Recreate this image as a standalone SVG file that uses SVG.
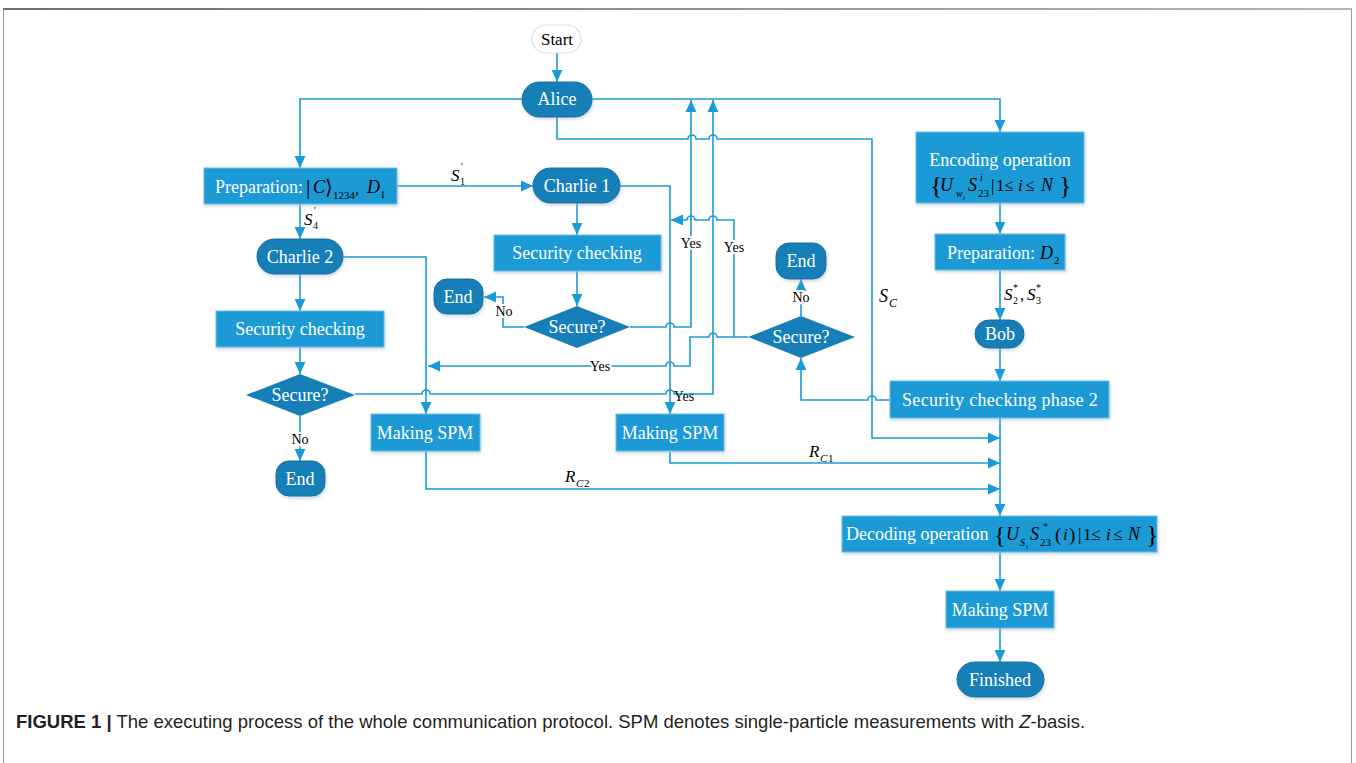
<svg xmlns="http://www.w3.org/2000/svg" width="1356" height="763" viewBox="0 0 1356 763">
<defs>
<style>
.box{fill:#1c9ad6;stroke:#6fbde6;stroke-width:1;filter:url(#sh)}
.pill{fill:#177fb8;stroke:#106ea3;stroke-width:1;filter:url(#sh)}
.dia{fill:#177fb8;stroke:none}
.t{font-family:"Liberation Serif",serif;font-size:18px;fill:#fff;text-anchor:middle}
.ts{font-family:"Liberation Serif",serif;font-size:18px;fill:#fff}
.lbl{font-family:"Liberation Serif",serif;font-size:14px;fill:#000;text-anchor:middle}
.bg{stroke:#fff;stroke-width:4;paint-order:stroke}
.m{font-family:"Liberation Serif",serif;fill:#000}
.i{font-style:italic}
.ln{fill:none;stroke:#1b9ad8;stroke-width:1.6}
.arr{marker-end:url(#ah)}
</style>
<marker id="ah" viewBox="0 0 10 10" refX="10" refY="5" markerWidth="12" markerHeight="12" markerUnits="userSpaceOnUse" orient="auto">
<path d="M0,0.5 L10,5 L0,9.5 z" fill="#1b9ad8"/>
</marker>
<filter id="sh" x="-10%" y="-20%" width="120%" height="150%">
<feDropShadow dx="1" dy="2" stdDeviation="1.5" flood-color="#9fb3c2" flood-opacity="0.5"/>
</filter>
<linearGradient id="tg" x1="0" x2="1" y1="0" y2="0">
<stop offset="0" stop-color="#6e6e6e"/><stop offset="1" stop-color="#b5b5b5"/>
</linearGradient>
</defs>
<rect x="0" y="0" width="1356" height="763" fill="#fff"/>
<rect x="3" y="8" width="1349" height="2" fill="url(#tg)"/>
<path d="M3.5,9 V763 M1351.5,9 V763" stroke="#9a9a9a" stroke-width="1" fill="none"/>

<g id="connectors">
<path class="ln arr" d="M557,53 V82"/>
<path class="ln arr" d="M522,99 H300 V168"/>
<path class="ln arr" d="M592,99 H1000 V132"/>
<path class="ln arr" d="M557,117 V139 H688 a4,4 0 0 1 8,0 H709 a4,4 0 0 1 8,0 H872 V438 H1000"/>
<path class="ln arr" d="M397,186 H533"/>
<path class="ln arr" d="M300,204 V239"/>
<path class="ln arr" d="M577,203 V235"/>
<path class="ln arr" d="M577,271 V306"/>
<path class="ln arr" d="M524,327 H503 V297 H484"/>
<path class="ln arr" d="M630,327 H666 a4,4 0 0 1 8,0 H691 V100"/>
<path class="ln arr" d="M620,186 H670 V414"/>
<path class="ln arr" d="M300,274 V311"/>
<path class="ln arr" d="M300,347 V374"/>
<path class="ln arr" d="M300,416 V461"/>
<path class="ln arr" d="M355,394 H422 a4,4 0 0 1 8,0 H666 a4,4 0 0 1 8,0 H713 V100"/>
<path class="ln arr" d="M343,257 H426 V414"/>
<path class="ln arr" d="M748,337 H734 V220 H717 a4,4 0 0 0 -8,0 H695 a4,4 0 0 0 -8,0 H671"/>
<path class="ln arr" d="M734,337 H717 a4,4 0 0 0 -8,0 H690 V366 H674 a4,4 0 0 0 -8,0 H428"/>
<path class="ln arr" d="M801,316 V279"/>
<path class="ln arr" d="M890,400 H876 a4,4 0 0 0 -8,0 H801 V358"/>
<path class="ln arr" d="M1000,203 V234"/>
<path class="ln arr" d="M1000,270 V320"/>
<path class="ln arr" d="M1000,348 V381"/>
<path class="ln arr" d="M1000,418 V516"/>
<path class="ln arr" d="M670,452 V463 H1000"/>
<path class="ln arr" d="M426,451 V489 H1000"/>
<path class="ln arr" d="M1000,552 V591"/>
<path class="ln arr" d="M1000,628 V662"/>
<text class="lbl bg" x="691" y="248">Yes</text>
<text class="lbl bg" x="734" y="252">Yes</text>
<text class="lbl bg" x="600" y="371">Yes</text>
<text class="lbl" x="684" y="401">Yes</text>
<text class="lbl bg" x="504" y="316">No</text>
<text class="lbl bg" x="801" y="302">No</text>
<text class="lbl bg" x="300" y="444">No</text>
<text class="m" font-size="17"><tspan class="i" x="451" y="181">S</tspan><tspan x="461" y="170" font-size="10">'</tspan><tspan x="460" y="185" font-size="10">1</tspan></text>
<text class="m" font-size="17"><tspan class="i" x="304" y="225">S</tspan><tspan x="314" y="214" font-size="10">'</tspan><tspan x="313" y="229" font-size="10">4</tspan></text>
<text class="m" font-size="17"><tspan class="i" x="1004" y="300">S</tspan><tspan x="1013" y="291" font-size="10">*</tspan><tspan x="1013" y="304" font-size="10">2</tspan><tspan x="1020" y="300">,</tspan><tspan class="i" x="1027" y="300">S</tspan><tspan x="1036" y="291" font-size="10">*</tspan><tspan x="1036" y="304" font-size="10">3</tspan></text>
<text class="m" font-size="18"><tspan class="i" x="879" y="302">S</tspan><tspan class="i" x="889" y="307" font-size="12">C</tspan></text>
<text class="m" font-size="17"><tspan class="i" x="565" y="482">R</tspan><tspan class="i" x="576" y="487" font-size="11">C</tspan><tspan x="584" y="487" font-size="11">2</tspan></text>
<text class="m" font-size="17"><tspan class="i" x="809" y="457">R</tspan><tspan class="i" x="820" y="462" font-size="11">C</tspan><tspan x="828" y="462" font-size="11">1</tspan></text>
</g>

<g id="start">
<rect x="532" y="25" width="49" height="28" rx="14" fill="#fff" stroke="#cfe3f2" stroke-width="1.2"/>
<text class="t" x="557" y="45" style="fill:#000;font-size:17px">Start</text>
</g>
<g id="alice">
<rect class="pill" x="522" y="82" width="70" height="35" rx="17.5"/>
<text class="t" x="557" y="105">Alice</text>
</g>
<g id="prep1">
<rect class="box" x="204" y="168" width="193" height="36"/>
<text class="ts" x="215" y="193">Preparation:</text>
<text class="m" font-size="18"><tspan x="306" y="194" font-size="22">|</tspan><tspan class="i" x="313" y="193">C</tspan><tspan x="325" y="194" font-size="20">⟩</tspan><tspan x="333" y="199" font-size="11">1234</tspan><tspan x="355" y="194" font-size="16">,</tspan><tspan class="i" x="367" y="193">D</tspan><tspan x="380" y="198" font-size="11">1</tspan></text>
</g>
<g id="charlie1">
<rect class="pill" x="533" y="168" width="87" height="35" rx="17.5"/>
<text class="t" x="577" y="192">Charlie 1</text>
</g>
<g id="charlie2">
<rect class="pill" x="257" y="239" width="86" height="35" rx="17.5"/>
<text class="t" x="300" y="263">Charlie 2</text>
</g>
<g id="sc1">
<rect class="box" x="494" y="235" width="167" height="36"/>
<text class="t" x="577" y="259">Security checking</text>
</g>
<g id="sc2">
<rect class="box" x="216" y="311" width="168" height="36"/>
<text class="t" x="300" y="335">Security checking</text>
</g>
<g id="secure1">
<path class="dia" d="M524,327 L577,306 L630,327 L577,348 Z"/>
<text class="t" x="577" y="333">Secure?</text>
</g>
<g id="secure2">
<path class="dia" d="M246,395 L300,374 L355,395 L300,416 Z"/>
<text class="t" x="300" y="401">Secure?</text>
</g>
<g id="secure3">
<path class="dia" d="M748,337 L801,316 L855,337 L801,358 Z"/>
<text class="t" x="801" y="343">Secure?</text>
</g>
<g id="end1">
<rect class="pill" x="434" y="279" width="49" height="35" rx="13"/>
<text class="t" x="458" y="303">End</text>
</g>
<g id="end2">
<rect class="pill" x="276" y="461" width="49" height="35" rx="13"/>
<text class="t" x="300" y="485">End</text>
</g>
<g id="end3">
<rect class="pill" x="776" y="243" width="50" height="36" rx="13"/>
<text class="t" x="801" y="267">End</text>
</g>
<g id="spm1">
<rect class="box" x="371" y="414" width="109" height="37"/>
<text class="t" x="425" y="439">Making SPM</text>
</g>
<g id="spm2">
<rect class="box" x="616" y="414" width="108" height="37"/>
<text class="t" x="670" y="439">Making SPM</text>
</g>
<g id="encoding">
<rect class="box" x="916" y="132" width="168" height="71"/>
<text class="t" x="1000" y="166">Encoding operation</text>
<text class="m" font-size="17"><tspan x="930" y="194" font-size="26">{</tspan><tspan class="i" x="940" y="191" font-size="18">U</tspan><tspan class="i" x="956" y="197" font-size="10">w</tspan><tspan class="i" x="963" y="200" font-size="7">i</tspan><tspan class="i" x="968" y="191" font-size="18">S</tspan><tspan class="i" x="980" y="181" font-size="10">i</tspan><tspan x="978" y="197" font-size="11">23</tspan><tspan x="991" y="191">|</tspan><tspan x="996" y="191">1</tspan><tspan x="1004" y="191">≤</tspan><tspan class="i" x="1018" y="191">i</tspan><tspan x="1025" y="191">≤</tspan><tspan class="i" x="1041" y="191" font-size="18">N</tspan><tspan x="1059" y="194" font-size="26">}</tspan></text>
</g>
<g id="prep2">
<rect class="box" x="935" y="234" width="130" height="36"/>
<text class="ts" x="947" y="259">Preparation:</text>
<text class="m" font-size="18"><tspan class="i" x="1040" y="259">D</tspan><tspan x="1054" y="264" font-size="11">2</tspan></text>
</g>
<g id="bob">
<rect class="pill" x="975" y="320" width="49" height="28" rx="14"/>
<text class="t" x="1000" y="340">Bob</text>
</g>
<g id="scp2">
<rect class="box" x="890" y="381" width="219" height="37"/>
<text class="t" x="1000" y="406" letter-spacing="0.3">Security checking phase 2</text>
</g>
<g id="decoding">
<rect class="box" x="842" y="516" width="315" height="36"/>
<text class="m" font-size="17"><tspan x="846" y="540" font-size="18" fill="#fff">Decoding operation</tspan><tspan x="994" y="543" font-size="24">{</tspan><tspan class="i" x="1006" y="540" font-size="18">U</tspan><tspan class="i" x="1020" y="546" font-size="10">S</tspan><tspan class="i" x="1026" y="549" font-size="7">i</tspan><tspan class="i" x="1030" y="540" font-size="18">S</tspan><tspan x="1043" y="530" font-size="10">*</tspan><tspan x="1040" y="546" font-size="11">23</tspan><tspan x="1055" y="541" font-size="19">(</tspan><tspan class="i" x="1063" y="540">i</tspan><tspan x="1069" y="541" font-size="19">)</tspan><tspan x="1078" y="540">|</tspan><tspan x="1083" y="540">1</tspan><tspan x="1091" y="540">≤</tspan><tspan class="i" x="1106" y="540">i</tspan><tspan x="1113" y="540">≤</tspan><tspan class="i" x="1128" y="540" font-size="18">N</tspan><tspan x="1146" y="543" font-size="26">}</tspan></text>
</g>
<g id="spm3">
<rect class="box" x="946" y="591" width="108" height="37"/>
<text class="t" x="1000" y="616">Making SPM</text>
</g>
<g id="finished">
<rect class="pill" x="957" y="662" width="87" height="35" rx="17.5"/>
<text class="t" x="1000" y="686">Finished</text>
</g>
<g id="caption">
<text x="16" y="728" font-family="'Liberation Sans',Arial,sans-serif" font-size="18.5" fill="#231f20"><tspan font-weight="bold">FIGURE 1 |</tspan> The executing process of the whole communication protocol. SPM denotes single-particle measurements with <tspan font-style="italic">Z</tspan>-basis.</text>
</g>
</svg>
